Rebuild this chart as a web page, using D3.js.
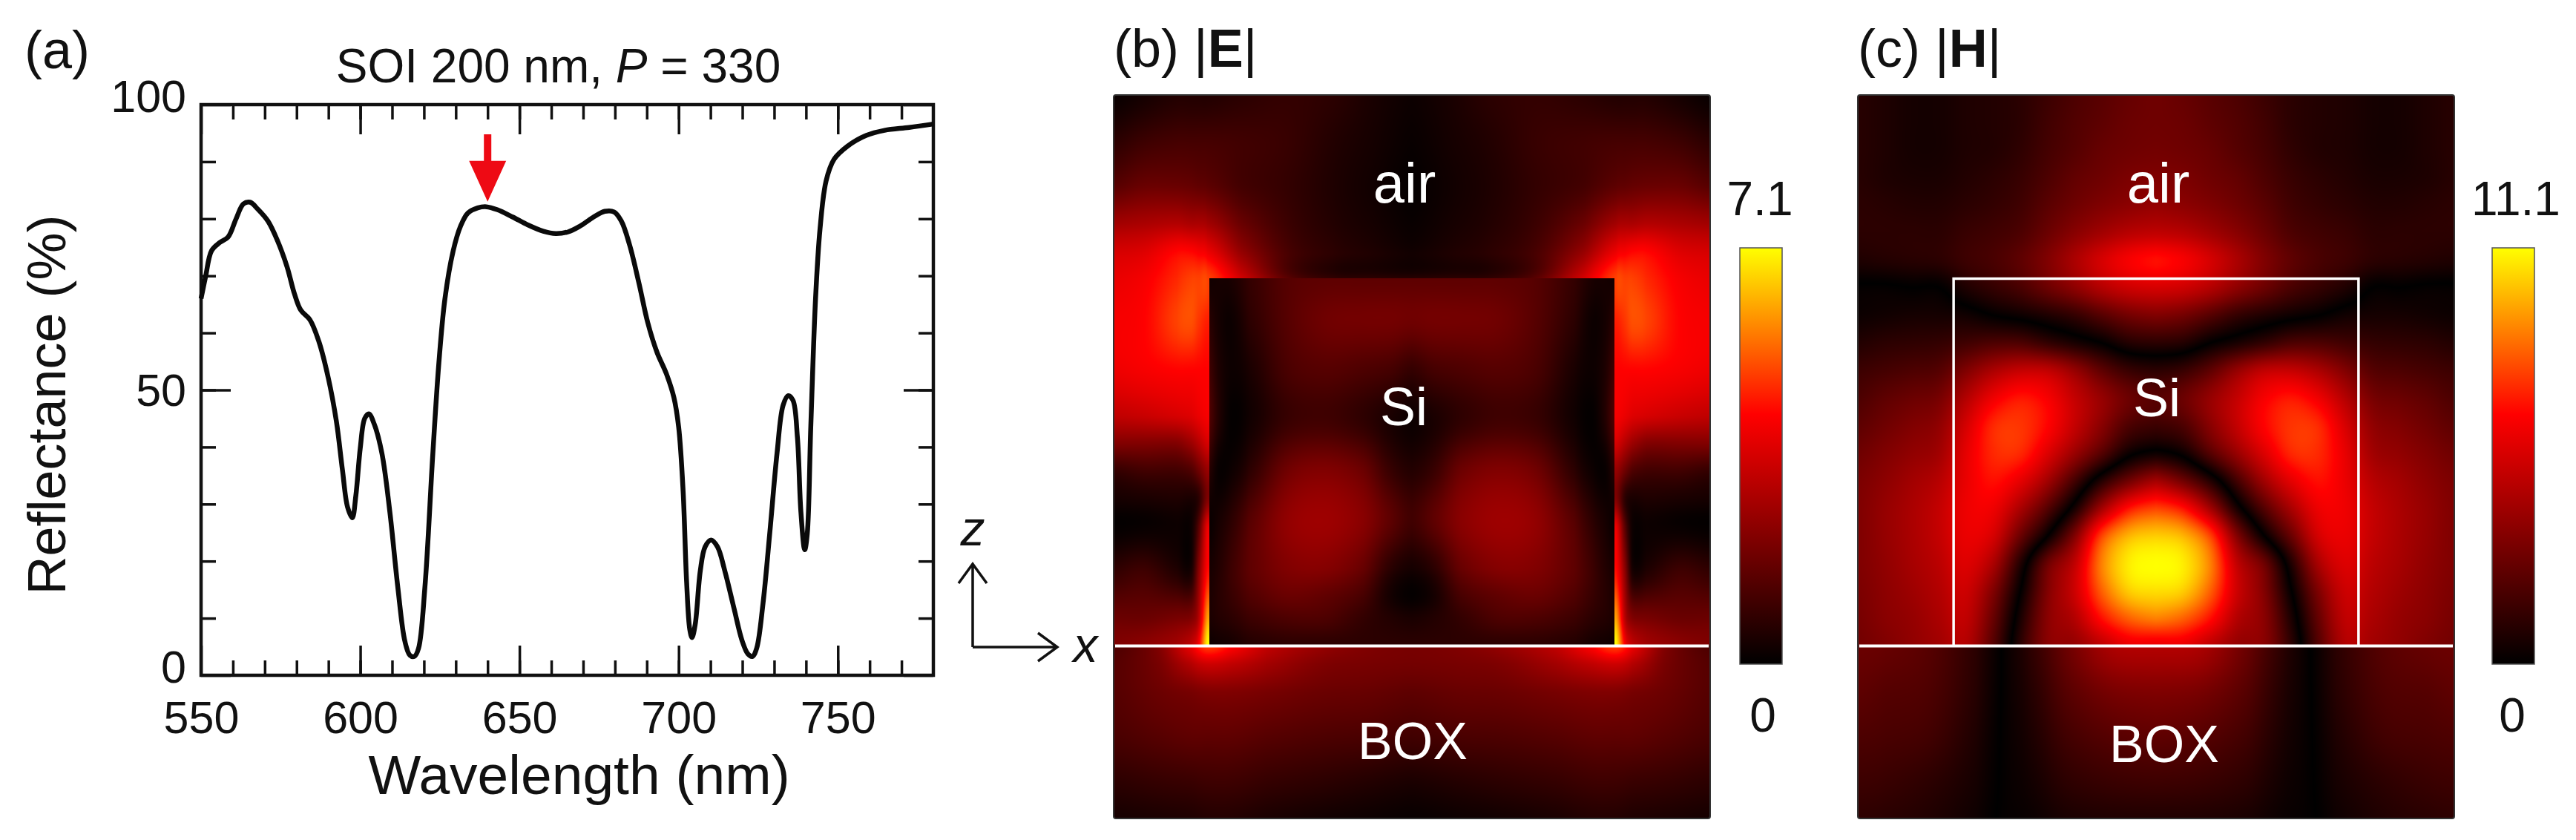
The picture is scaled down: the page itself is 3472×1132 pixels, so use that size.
<!DOCTYPE html>
<html><head><meta charset="utf-8">
<script src="https://cdn.jsdelivr.net/npm/d3@7"></script>
<style>
html,body{margin:0;padding:0;background:#fff}
svg{display:block}
text{font-family:"Liberation Sans",Arial,sans-serif;fill:#111}
.white{fill:#fff}
</style></head><body>
<svg id="c" width="3472" height="1132"></svg>
<script>
// ---- Panel (a): reflectance spectrum ----
const wavelength=[550,551.4,553.3,555.8,558.5,561,563.3,565.4,567.8,571,573.9,577,579.3,581.3,584.2,587,590,592.5,594.4,596,597.5,598.6,600,601.4,602.7,604.4,606.8,609.3,611.8,614,615.6,617,618.3,620.3,622.8,624.7,626.6,629.2,631.5,633.8,636.9,639.6,643,647.9,652.7,657.5,661.4,665.3,669,673,676.8,679.7,682,684.6,687.5,690.3,693.2,696.1,698.5,700,701.4,702.5,703.5,704.2,705.2,706.8,708.3,710.2,712.2,714.5,717.4,719.9,721.8,723.2,724.5,726.5,728.6,730.9,732.8,734.4,735.9,737.3,738.4,739.6,740.4,741.5,743,744.4,746.3,748.8,753,758.9,764.7,772.4,780];
const reflectance=[66,69.8,74.4,75.8,76.8,80,82.6,82.9,81.7,79.6,76.3,71.6,66.9,64,62.3,58.5,52,44.5,36,29.5,27.6,31.4,39.8,45,45.8,44,38.9,28.6,15.4,6,3.5,3.3,4.7,15.4,38.9,54.8,66,74.4,78.7,81,81.9,82.1,81.6,80.3,78.9,77.8,77.4,77.7,78.7,80.2,81.3,81.2,79.6,75.4,68.8,61.8,56.6,52.9,48.7,43.5,32.3,16.4,8,6.6,8.9,18.3,22.5,23.7,22.5,18.3,11.7,6.1,3.7,3.3,4.7,12.6,24.8,38.9,47.3,49,48.2,41.7,28.6,22,24.8,43.5,66,78.2,86.6,90.4,92.7,94.6,95.5,96,96.6];
const xMajor=[550,600,650,700,750];
const xMinor=d3.range(560,780,10);
const yMajor=[0,50,100];
const yMinor=d3.range(10,100,10);
const arrowWavelength=640, arrowTip=83, arrowTail=94.8;

// ---- Field maps: geometry in nm (z = 0 at the BOX surface) ----
const periodHalf=165, siHalf=112, siTop=200, zTop=300, zBottom=-94;

// |E| outside the Si block (half-period, mirrored). colormap fraction 0..1
const eAirX=[0,22,43,69,95,113,118,122,130,148,165];
const eAirZ=[300,275,250,230,215,200,175,150,125,110,95,80,65,40,15,0];
const eAir=[
[.03,.06,.10,.12,.10,.08,.08,.08,.08,.05,.02],
[.02,.05,.08,.13,.15,.16,.16,.16,.16,.14,.10],
[.01,.04,.07,.12,.16,.22,.23,.24,.25,.25,.21],
[.02,.05,.08,.14,.25,.38,.40,.40,.42,.40,.38],
[.04,.07,.10,.17,.35,.55,.58,.60,.60,.52,.50],
[.10,.11,.12,.22,.50,.70,.70,.70,.66,.58,.55],
[.66,.66,.66,.66,.66,.64,.68,.72,.70,.60,.58],
[.62,.62,.62,.62,.62,.60,.60,.60,.60,.58,.56],
[.58,.58,.58,.58,.58,.58,.55,.52,.50,.47,.45],
[.50,.50,.50,.50,.50,.50,.42,.36,.30,.30,.30],
[.35,.35,.35,.35,.35,.35,.25,.18,.15,.15,.12],
[.30,.30,.30,.30,.30,.30,.10,.06,.07,.06,.05],
[.55,.55,.55,.55,.55,.55,.20,.03,.03,.02,.01],
[.62,.62,.62,.62,.62,.62,.32,.06,.08,.15,.12],
[.85,.85,.85,.85,.85,.85,.42,.30,.28,.25,.25],
[1,1,1,1,1,1,.58,.45,.38,.33,.30]];

// |E| inside the Si block
const eSiX=[0,12,27,48,69,90,100,107,113];
const eSiZ=[200,177,150,123,96,69,42,28,15,0];
const eSi=[
[.22,.22,.22,.22,.20,.12,.06,.05,.04],
[.26,.27,.27,.26,.20,.10,.03,.05,.10],
[.12,.16,.18,.20,.17,.06,.03,.07,.16],
[.03,.06,.11,.15,.13,.04,.01,.08,.20],
[.08,.13,.25,.30,.26,.10,.03,.02,.10],
[.15,.22,.32,.37,.34,.20,.10,.05,.02],
[.05,.10,.24,.31,.30,.22,.14,.08,.05],
[.01,.05,.17,.23,.25,.19,.13,.09,.06],
[.06,.08,.12,.18,.18,.14,.10,.08,.06],
[.10,.10,.10,.10,.10,.08,.05,.04,.03]];

// |E| in the BOX
const eBoxX=[0,25,50,80,100,113,122,140,165];
const eBoxZ=[0,-10,-25,-50,-75,-100];
const eBox=[
[.28,.30,.35,.45,.60,.70,.55,.30,.18],
[.27,.28,.30,.38,.45,.48,.42,.28,.20],
[.22,.24,.25,.28,.30,.30,.28,.25,.20],
[.15,.17,.18,.20,.22,.22,.22,.20,.17],
[.06,.08,.10,.12,.14,.14,.13,.12,.10],
[.01,.02,.03,.05,.07,.07,.06,.05,.04]];

// H field amplitude above the BOX, one list per x; the dark curves are its sign changes
const hX=[0,15,30,45,60,75,90,105,120,135,150,165];
const hZ=d3.range(0,301,15);
const hUpper=[
[.55,.80,.95,1.0,.92,.70,.38,.03,-.14,-.20,-.10,.10,.30,.50,.62,.45,.35,.30,.27,.26,.26],
[.55,.75,.92,.97,.88,.62,.26,-.03,-.18,-.25,-.13,.08,.27,.48,.58,.43,.33,.29,.26,.25,.24],
[.45,.62,.75,.80,.70,.38,.08,-.20,-.32,-.35,-.22,0,.20,.42,.50,.38,.30,.26,.24,.22,.21],
[.35,.42,.48,.45,.30,.05,-.16,-.36,-.46,-.46,-.35,-.06,.12,.33,.40,.32,.26,.23,.20,.19,.18],
[.32,.32,.30,.25,0,-.20,-.38,-.52,-.60,-.58,-.45,-.12,.07,.25,.30,.25,.21,.18,.16,.15,.14],
[.10,.06,0,-.08,-.25,-.40,-.54,-.66,-.68,-.63,-.46,-.18,.03,.17,.22,.18,.15,.13,.11,.10,.10],
[-.20,-.24,-.30,-.40,-.50,-.56,-.62,-.66,-.66,-.56,-.40,-.18,0,.12,.17,.15,.12,.10,.08,.08,.08],
[-.42,-.45,-.48,-.52,-.55,-.56,-.55,-.54,-.50,-.42,-.30,-.15,-.04,.07,.14,.13,.10,.08,.07,.07,.07],
[-.38,-.40,-.42,-.44,-.46,-.46,-.43,-.38,-.34,-.28,-.20,-.12,-.05,0,.10,.10,.08,.06,.05,.05,.05],
[-.34,-.35,-.37,-.39,-.40,-.40,-.38,-.34,-.30,-.25,-.18,-.11,-.05,0,.09,.10,.08,.06,.05,.05,.05],
[-.30,-.32,-.33,-.34,-.35,-.35,-.33,-.30,-.26,-.22,-.16,-.10,-.04,-.01,.08,.10,.09,.07,.07,.07,.07],
[-.27,-.28,-.29,-.30,-.30,-.30,-.29,-.26,-.22,-.18,-.14,-.08,-.03,-.01,.07,.10,.10,.09,.09,.09,.09]];

// H field amplitude in the BOX, one list per x
const hBoxX=[0,25,50,70,84,100,125,150,165];
const hBoxZ=[0,-25,-50,-75,-100];
const hBox=[
[.42,.30,.22,.14,.06],
[.40,.28,.20,.13,.06],
[.25,.20,.15,.10,.05],
[.10,.08,.06,.04,.02],
[.01,.01,.01,.01,.01],
[-.10,-.09,-.07,-.05,-.03],
[-.20,-.18,-.15,-.10,-.07],
[-.24,-.20,-.17,-.13,-.09],
[-.25,-.22,-.18,-.14,-.10]];

const svg=d3.select("#c");
const heat=d3.scaleLinear().domain([0,.6,1]).range(["#000000","#ff0000","#ffff00"]).clamp(true);

/* ---------- panel a ---------- */
const X=d3.scaleLinear().domain([550,780]).range([271,1258]);
const Y=d3.scaleLinear().domain([0,100]).range([910,141]);
const ga=svg.append("g");
function styleAxis(g,labels){
  g.selectAll(".domain").remove();
  g.selectAll("line").attr("stroke","#111").attr("stroke-width",3.5);
  g.selectAll("text").style("font-size","61px").attr("fill","#111");
  if(!labels) g.selectAll("text").remove();
}
const bt=(vals,len,lab)=>{const g=ga.append("g").attr("transform",`translate(0,${Y(0)})`)
  .call(d3.axisBottom(X).tickValues(vals).tickSize(-len).tickPadding(20));styleAxis(g,lab);return g;};
const tp=(vals,len)=>{const g=ga.append("g").attr("transform",`translate(0,${Y(100)})`)
  .call(d3.axisTop(X).tickValues(vals).tickSize(-len));styleAxis(g,false);};
const lf=(vals,len,lab)=>{const g=ga.append("g").attr("transform",`translate(${X(550)},0)`)
  .call(d3.axisLeft(Y).tickValues(vals).tickSize(-len).tickPadding(20));styleAxis(g,lab);return g;};
const rt=(vals,len)=>{const g=ga.append("g").attr("transform",`translate(${X(780)},0)`)
  .call(d3.axisRight(Y).tickValues(vals).tickSize(-len));styleAxis(g,false);};
const gx=bt(xMajor,40,true); bt(xMinor,20,false); tp(xMajor,40); tp(xMinor,20);
const gy=lf(yMajor,40,true); lf(yMinor,20,false); rt(yMajor,40); rt(yMinor,20);
gx.selectAll("text").attr("dy","0.95em");
gy.selectAll("text").attr("dy",d=>d===50?"0.34em":"0.16em");
ga.append("rect").attr("x",X(550)).attr("y",Y(100)).attr("width",X(780)-X(550)).attr("height",Y(0)-Y(100))
  .attr("fill","none").attr("stroke","#111").attr("stroke-width",4.5);
const line=d3.line().x(d=>X(d[0])).y(d=>Y(d[1])).curve(d3.curveCatmullRom.alpha(.5));
ga.append("path").datum(d3.zip(wavelength,reflectance)).attr("d",line)
  .attr("fill","none").attr("stroke","#0a0a0a").attr("stroke-width",6.5).attr("stroke-linejoin","round");
// red arrow
const ax=X(arrowWavelength), atip=Y(arrowTip), atail=Y(arrowTail);
const ahead=atip-55;
ga.append("path").attr("fill","#ee0a14")
  .attr("d",`M${ax-5},${atail}L${ax+5},${atail}L${ax+5},${ahead}L${ax+25},${ahead}L${ax},${atip}L${ax-25},${ahead}L${ax-5},${ahead}Z`);
ga.append("text").attr("x",33).attr("y",92).style("font-size","72px").text("(a)");
const tt=ga.append("text").attr("x",(X(550)+X(780))/2-12).attr("y",111).attr("text-anchor","middle").style("font-size","64px");
tt.append("tspan").text("SOI 200 nm, ");
tt.append("tspan").attr("font-style","italic").text("P");
tt.append("tspan").text(" = 330");
ga.append("text").attr("x",(X(550)+X(780))/2+16).attr("y",1070).attr("text-anchor","middle").style("font-size","75px").text("Wavelength (nm)");
ga.append("text").attr("transform",`translate(88,${(Y(0)+Y(100))/2+20}) rotate(-90)`).attr("text-anchor","middle").style("font-size","72px").text("Reflectance (%)");

/* ---------- z/x axes glyph ---------- */
const gl=svg.append("g").attr("fill","none").attr("stroke","#111").attr("stroke-width",3.5);
gl.append("path").attr("d","M1311,872V760M1292,786L1311,760L1330,786");
gl.append("path").attr("d","M1311,872H1425M1399,853L1425,872L1399,891");
svg.append("text").attr("x",1311).attr("y",735).attr("text-anchor","middle").attr("font-style","italic").style("font-size","66px").text("z");
svg.append("text").attr("x",1463).attr("y",892).attr("text-anchor","middle").attr("font-style","italic").style("font-size","66px").text("x");

/* ---------- field panels ---------- */
function makeField(xs,zs,cols){ // cols[ix][iz]; mirrored in x, drawn with bicubic image smoothing
  const ix=d3.scaleLinear().domain(xs).range(d3.range(xs.length)).clamp(true);
  const iz=d3.scaleLinear().domain(zs).range(d3.range(zs.length)).clamp(true);
  const nx=xs.length-1,nz=zs.length-1;
  const cr=(p0,p1,p2,p3,t)=>.5*((2*p1)+(-p0+p2)*t+(2*p0-5*p1+4*p2-p3)*t*t+(-p0+3*p1-3*p2+p3)*t*t*t);
  const cl=(v,m)=>v<0?0:v>m?m:v;
  return (x,z)=>{
    const fx=ix(Math.abs(x)),fz=iz(z);
    const i=Math.min(Math.floor(fx),nx-1),j=Math.min(Math.floor(fz),nz-1);
    const tx=fx-i,tz=fz-j,r=[];
    for(let a=-1;a<=2;a++){
      const c=cols[cl(i+a,nx)];
      r.push(cr(c[cl(j-1,nz)],c[cl(j,nz)],c[cl(j+1,nz)],c[cl(j+2,nz)],tz));
    }
    return Math.abs(cr(r[0],r[1],r[2],r[3],tx));
  };
}
function drawPanel(left,right,top,bottom,fn){
  const px=d3.scaleLinear().domain([-periodHalf,periodHalf]).range([left,right]);
  const pz=d3.scaleLinear().domain([zTop,zBottom]).range([top,bottom]);
  const W=Math.round(right-left),H=Math.round(bottom-top);
  const cv=document.createElement("canvas");cv.width=W;cv.height=H;
  const ctx=cv.getContext("2d"),img=ctx.createImageData(W,H);
  const lut=d3.range(1025).map(i=>d3.rgb(heat(i/1024)));
  for(let v=0;v<H;v++){
    const z=pz.invert(top+v+.5);
    for(let u=0;u<W;u++){
      const x=px.invert(left+u+.5);
      const val=fn(x,z);
      const c=lut[Math.max(0,Math.min(1024,Math.round(val*1024)))];
      const o=(v*W+u)*4;
      img.data[o]=c.r;img.data[o+1]=c.g;img.data[o+2]=c.b;img.data[o+3]=255;
    }
  }
  ctx.putImageData(img,0,0);
  const g=svg.append("g");
  g.append("image").attr("x",left).attr("y",top).attr("width",W).attr("height",H)
    .attr("href",cv.toDataURL("image/png"));
  g.append("rect").attr("x",left).attr("y",top).attr("width",W).attr("height",H).attr("rx",3)
    .attr("fill","none").attr("stroke","#333").attr("stroke-width",2);
  return {g,px,pz};
}
const eAirF=makeField(eAirX,eAirZ,d3.transpose(eAir));
const eSiF=makeField(eSiX,eSiZ,d3.transpose(eSi));
const eBoxF=makeField(eBoxX,eBoxZ,d3.transpose(eBox));
const hF=makeField(hX,hZ,hUpper);
const hBoxF=makeField(hBoxX,hBoxZ,hBox);

const pb=drawPanel(1501,2305,128,1103,(x,z)=>z<0?eBoxF(x,z):(Math.abs(x)<siHalf&&z<siTop?eSiF(x,z):eAirF(x,z)));
const pc=drawPanel(2504,3308,128,1103,(x,z)=>z<0?hBoxF(x,z):hF(x,z));
[pb,pc].forEach(p=>p.g.append("line").attr("x1",p.px(-periodHalf)+2).attr("x2",p.px(periodHalf)-2)
  .attr("y1",p.pz(0)).attr("y2",p.pz(0)).attr("stroke","#fff").attr("stroke-width",4));
pc.g.append("path").attr("fill","none").attr("stroke","#fff").attr("stroke-width",3.5)
  .attr("d",`M${pc.px(-siHalf)},${pc.pz(0)}V${pc.pz(siTop)}H${pc.px(siHalf)}V${pc.pz(0)}`);

const lbl=(x,y,s,cls,fs)=>svg.append("text").attr("x",x).attr("y",y).attr("text-anchor","middle").attr("class",cls||null).style("font-size",(fs||60)+"px").text(s);
lbl(1893,273,"air","white",76);lbl(1892,573,"Si","white",72);lbl(1904,1023,"BOX","white",70);
lbl(2909,273,"air","white",76);lbl(2907,561,"Si","white",72);lbl(2917,1027,"BOX","white",70);

// panel titles
[[1501,"(b) |","E","|"],[2504,"(c) |","H","|"]].forEach(d=>{
  const t=svg.append("text").attr("x",d[0]).attr("y",90).style("font-size","72px");
  t.append("tspan").text(d[1]);t.append("tspan").attr("font-weight","bold").text(d[2]);t.append("tspan").text(d[3]);
});

// colour bars
const defs=svg.append("defs");
const grad=defs.append("linearGradient").attr("id","hot").attr("x1",0).attr("x2",0).attr("y1",1).attr("y2",0);
heat.domain().forEach(s=>grad.append("stop").attr("offset",s).attr("stop-color",heat(s)));
[[2345,"7.1",2372,2376],[3359,"11.1",3391,3386]].forEach(d=>{
  svg.append("rect").attr("x",d[0]).attr("y",334).attr("width",57).attr("height",561).attr("fill","url(#hot)").attr("stroke","#555").attr("stroke-width",1.5);
  lbl(d[2],290,d[1],null,64);lbl(d[3],986,"0",null,64);
});
</script></body></html>
